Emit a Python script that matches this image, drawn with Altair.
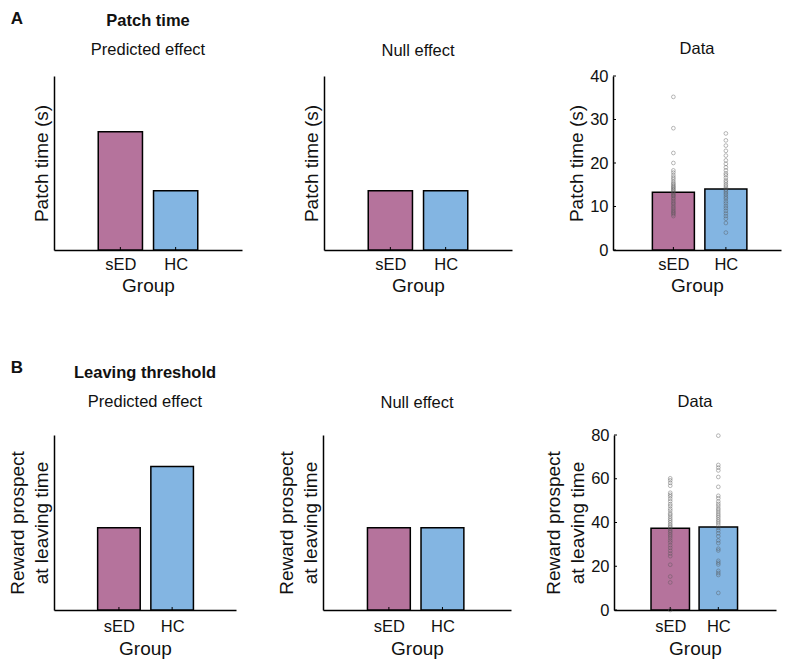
import altair as alt
import pandas as pd

FONT = "Liberation Sans"
TXT = "#111111"

groups = ["sED", "HC"]
group_pos = [1, 2]
bar_colors = ["#B5739C", "#83B5E2"]

# Panel A: patch time
patch_predicted = [0.68, 0.34]
patch_null = [0.34, 0.34]
patch_mean = [13.3, 14.0]
patch_ticks = [0, 10, 20, 30, 40]
patch_sed_points = [35.2, 28.0, 22.3, 20.0, 18.3, 17.8, 17.2, 16.7, 16.3, 15.8, 15.4,
                    15.1, 14.8, 14.5, 14.3, 14.0, 13.8, 13.5, 13.2, 12.9, 12.6, 12.4,
                    12.0, 11.7, 11.3, 10.9, 10.6, 10.2, 9.8, 9.5, 9.1, 8.8, 8.5, 8.2, 7.8]
patch_hc_points = [26.8, 25.2, 24.0, 22.8, 21.7, 20.6, 19.8, 19.0, 18.3, 17.6, 17.2,
                   16.6, 16.0, 15.6, 15.1, 14.7, 14.3, 13.9, 13.5, 13.1, 12.7, 12.2,
                   11.8, 11.2, 10.7, 10.1, 9.6, 9.0, 8.4, 7.8, 7.2, 6.2, 4.0]

# Panel B: leaving threshold
leave_predicted = [0.47, 0.82]
leave_null = [0.47, 0.47]
leave_mean = [37.4, 37.9]
leave_ticks = [0, 20, 40, 60, 80]
leave_sed_points = [60.2, 59.3, 58.1, 56.8, 53.6, 52.7, 51.9, 50.8, 49.7, 48.4, 47.5,
                    46.3, 45.4, 44.2, 43.5, 42.6, 41.7, 40.9, 40.1, 39.2, 38.5, 37.8,
                    37.0, 36.2, 35.5, 34.6, 33.8, 32.9, 31.8, 30.9, 29.6, 28.4, 27.1,
                    25.8, 24.6, 20.7, 15.3, 12.6, 0.0]
leave_hc_points = [79.7, 66.3, 65.1, 63.8, 60.8, 56.3, 52.2, 51.1, 49.6, 48.5, 47.6,
                   46.5, 45.7, 44.8, 43.9, 43.1, 42.3, 41.4, 40.6, 39.8, 38.9, 37.6,
                   36.4, 35.1, 33.7, 31.8, 30.6, 28.0, 27.2, 22.5, 21.6, 20.8, 17.9,
                   16.9, 16.0, 7.8]

label_expr = f"datum.value == {group_pos[0]} ? '{groups[0]}' : '{groups[1]}'"


def panel(values, ytitle, width, height, xdom, ydom, title, subtitle, title_offset,
          title_weight="normal", ticks=None, sed_pts=None, hc_pts=None, letter=None, letter_y=0,
          xlab_pad=6, xtitle_pad=4):
    df = pd.DataFrame({"group": groups, "pos": group_pos, "val": values})
    df["x0"] = df["pos"] - 0.4
    df["x1"] = df["pos"] + 0.4
    xs = alt.Scale(domain=xdom, nice=False, zero=False)
    ys = alt.Scale(domain=ydom, nice=False, zero=False)
    xaxis = alt.Axis(values=group_pos, labelExpr=label_expr, ticks=False, title="Group",
                     labelPadding=xlab_pad, titlePadding=xtitle_pad)
    if ticks is not None:
        yaxis = alt.Axis(values=ticks, ticks=False, title=ytitle, labelPadding=5,
                         titlePadding=3, format="d")
    else:
        yaxis = alt.Axis(values=[0], labels=False, ticks=False, title=ytitle,
                         titlePadding=3, minExtent=0, maxExtent=0)
    layers = []
    bars = alt.Chart(df).mark_bar(stroke="black", strokeWidth=1.5, opacity=1).encode(
        x=alt.X("x0:Q", scale=xs, axis=xaxis),
        x2="x1:Q",
        y=alt.Y("val:Q", scale=ys, axis=yaxis),
        y2=alt.datum(0),
        color=alt.Color("group:N", scale=alt.Scale(domain=groups, range=bar_colors), legend=None),
    )
    layers.append(bars)
    xt = alt.Chart(pd.DataFrame({"pos": group_pos})).mark_rule(color="black", strokeWidth=1).encode(
        x=alt.X("pos:Q", scale=xs, axis=xaxis),
        y=alt.value(height),
        y2=alt.value(height - 3),
    )
    layers.append(xt)
    if ticks is not None:
        yt = alt.Chart(pd.DataFrame({"t": ticks})).mark_rule(color="black", strokeWidth=1).encode(
            y=alt.Y("t:Q", scale=ys, axis=yaxis),
            x=alt.value(0),
            x2=alt.value(3),
        )
        layers.append(yt)
    if sed_pts is not None:
        pdf = pd.DataFrame({
            "pos": [group_pos[0]] * len(sed_pts) + [group_pos[1]] * len(hc_pts),
            "v": list(sed_pts) + list(hc_pts),
        })
        pts = alt.Chart(pdf).mark_point(shape="circle", filled=False, size=14,
                                         strokeWidth=0.6, color="#555555", opacity=0.7).encode(
            x=alt.X("pos:Q", scale=xs, axis=xaxis),
            y=alt.Y("v:Q", scale=ys, axis=yaxis),
        )
        layers.append(pts)
    if letter is not None:
        lt = alt.Chart(pd.DataFrame({"t": [letter]})).mark_text(
            font=FONT, fontSize=17, fontWeight="bold", align="center",
            baseline="top", color=TXT).encode(
            text="t:N", x=alt.value(-37), y=alt.value(letter_y))
        layers.append(lt)
    return alt.layer(*layers).properties(
        width=width, height=height,
        title=alt.TitleParams(
            text=title, subtitle=subtitle, font=FONT, fontSize=16.5, fontWeight=title_weight,
            color=TXT, subtitleFont=FONT, subtitleFontSize=16.5, subtitleColor=TXT,
            subtitleFontWeight="normal", anchor="middle", frame="group",
            offset=title_offset, subtitlePadding=12),
    )


ya = "Patch time (s)"
yb = ["Reward prospect", "at leaving time"]

OA = 17
OB = 24
LA = -65
LB = -75
BX = dict(xlab_pad=8, xtitle_pad=5)

p1 = panel(patch_predicted, ya, 188, 174, [-0.2, 3.2], [0, 1], "Patch time", "Predicted effect",
           LA + OA, title_weight="bold", letter="A", letter_y=LA)
p2 = panel(patch_null, ya, 188, 174, [-0.2, 3.2], [0, 1], "Null effect", "", OA)
p3 = panel(patch_mean, ya, 168, 174, [-0.15, 3.05], [0, 40], "Data", "", OA - 6,
           ticks=patch_ticks, sed_pts=patch_sed_points, hc_pts=patch_hc_points)

p4 = panel(leave_predicted, yb, 182, 175, [-0.22, 3.2], [0, 1], "Leaving threshold", "Predicted effect",
           LB + OB, title_weight="bold", letter="B", letter_y=LB, **BX)
p5 = panel(leave_null, yb, 188, 175, [-0.23, 3.28], [0, 1], "Null effect", "", OB, **BX)
p6 = panel(leave_mean, yb, 162, 175, [-0.17, 3.2], [0, 80], "Data", "", OB - 7,
           ticks=leave_ticks, sed_pts=leave_sed_points, hc_pts=leave_hc_points, **BX)

row_a = alt.hconcat(p1, alt.hconcat(p2, p3, spacing=55), spacing=60)
row_b = alt.hconcat(p4, alt.hconcat(p5, p6, spacing=33), spacing=41)

chart = alt.vconcat(row_a, row_b, spacing=63).properties(
    padding={"left": 8, "top": 10, "right": 5, "bottom": 5}
).configure_view(stroke=None).configure_axis(
    grid=False, domainColor="black", domainWidth=1.5,
    labelFont=FONT, labelFontSize=16.5, labelColor=TXT,
    titleFont=FONT, titleFontSize=19, titleFontWeight="normal", titleColor=TXT,
    titleLineHeight=24,
)

chart.save("out.html", embed_options={"renderer": "svg", "actions": False})
